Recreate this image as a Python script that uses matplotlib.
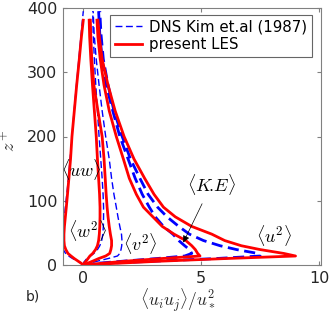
import matplotlib
matplotlib.use("Agg")
import matplotlib.pyplot as plt

plt.rcParams['mathtext.fontset'] = 'cm'
plt.rcParams['font.family'] = 'DejaVu Sans'

# wall distance z+ for the LES and DNS profiles
z_les = [0, 3, 6, 10, 14, 18, 24, 30, 38, 48, 60, 75, 90, 110, 135, 165, 200, 240, 280, 320, 355, 381]
z_dns = [0, 3, 6, 10, 14, 18, 24, 30, 38, 48, 60, 75, 90, 110, 135, 165, 200, 240, 280, 320, 360, 395]

# present LES
u2_les = [0, 1.6, 3.3, 6.0, 9.0, 8.5, 7.5, 6.7, 6.0, 5.45, 4.6, 3.9, 3.4, 3.0, 2.6, 2.15, 1.73, 1.35, 1.05, 0.8, 0.68, 0.62]
ke_les = [0, 0.9, 1.8, 3.3, 4.95, 4.85, 4.75, 4.6, 4.35, 3.85, 3.35, 2.95, 2.55, 2.25, 1.95, 1.7, 1.4, 1.1, 0.88, 0.72, 0.62, 0.58]
v2_les = [0, 0.2, 0.4, 0.65, 0.95, 1.12, 1.17, 1.2, 1.2, 1.15, 1.1, 1.05, 1.01, 0.97, 0.93, 0.88, 0.8, 0.62, 0.45, 0.36, 0.32, 0.3]
w2_les = [0, 0.05, 0.12, 0.2, 0.28, 0.4, 0.52, 0.6, 0.65, 0.68, 0.7, 0.71, 0.71, 0.69, 0.65, 0.6, 0.55, 0.47, 0.39, 0.32, 0.27, 0.25]
uw_les = [0, -0.1, -0.22, -0.38, -0.52, -0.65, -0.74, -0.8, -0.82, -0.82, -0.8, -0.76, -0.72, -0.67, -0.61, -0.54, -0.48, -0.38, -0.28, -0.17, -0.08, 0.0]

# DNS Kim et al. (1987)
u2_dns = [0, 1.2, 3.0, 5.6, 7.5, 7.4, 6.5, 5.8, 5.1, 4.5, 4.05, 3.55, 3.15, 2.75, 2.4, 2.0, 1.65, 1.3, 1.05, 0.85, 0.75, 0.7]
ke_dns = [0, 0.7, 1.7, 3.1, 4.3, 4.6, 4.5, 4.3, 4.05, 3.8, 3.4, 3.05, 2.8, 2.5, 2.2, 1.9, 1.55, 1.25, 0.97, 0.8, 0.7, 0.65]
v2_dns = [0, 0.3, 0.6, 1.05, 1.45, 1.55, 1.6, 1.63, 1.64, 1.62, 1.55, 1.47, 1.4, 1.3, 1.2, 1.1, 0.95, 0.8, 0.67, 0.55, 0.46, 0.42]
w2_dns = [0, 0.02, 0.06, 0.15, 0.3, 0.45, 0.6, 0.7, 0.78, 0.83, 0.85, 0.86, 0.86, 0.84, 0.8, 0.74, 0.67, 0.6, 0.53, 0.47, 0.42, 0.4]
uw_dns = [0, -0.08, -0.25, -0.45, -0.62, -0.75, -0.85, -0.9, -0.9, -0.88, -0.85, -0.8, -0.76, -0.7, -0.63, -0.56, -0.48, -0.39, -0.29, -0.19, -0.09, 0.0]

fig = plt.figure(figsize=(3.32, 3.14), dpi=100)
ax = fig.add_axes([63/332, 1-265/314, 258/332, 257/314])

dash = (0, (5, 2.5))
for prof in [uw_dns, w2_dns, v2_dns]:
    ax.plot(prof, z_dns, color='b', lw=1, linestyle=dash)
for prof in [u2_dns, ke_dns]:
    ax.plot(prof, z_dns, color='b', lw=2, linestyle=(0, (4, 2)))
ax.plot([], [], color='b', lw=1, linestyle=dash, label='DNS Kim et.al (1987)')
for i, prof in enumerate([uw_les, w2_les, v2_les, ke_les, u2_les]):
    ax.plot(prof, z_les, color='r', lw=2, label='present LES' if i == 0 else None)

ax.set_xlim(-0.86, 10.08)
ax.set_ylim(0, 400)
ax.set_xticks([0, 5, 10])
ax.set_yticks([0, 100, 200, 300, 400])
ax.tick_params(direction='in', length=3, top=True, right=True, labelsize=11.5,
               color='0.5', labelcolor='0.15', pad=4)
for s in ax.spines.values():
    s.set_color('0.5')
    s.set_linewidth(0.8)

tsz = 13
ax.text(-0.1, 148, r'$\langle uw\rangle$', fontsize=tsz, ha='center', va='center')
ax.text(0.18, 54, r'$\langle w^2\rangle$', fontsize=tsz, ha='center', va='center')
ax.text(2.42, 34, r'$\langle v^2\rangle$', fontsize=tsz, ha='center', va='center')
ax.text(8.08, 46, r'$\langle u^2\rangle$', fontsize=tsz, ha='center', va='center')
ax.annotate(r'$\langle K\!.\!E\rangle$', xy=(4.24, 35), xytext=(5.43, 125),
            fontsize=tsz, ha='center', va='center',
            arrowprops=dict(arrowstyle='-|>', color='k', lw=0.5,
                            mutation_scale=10, shrinkA=3, shrinkB=0))

ax.set_xlabel(r'$\langle u_i u_j\rangle / u_*^2$', fontsize=12.5, color='0.15')
ax.xaxis.set_label_coords(0.444, -0.085)
ax.set_ylabel(r'$z^+$', fontsize=tsz, color='0.15')
ax.yaxis.set_label_coords(-0.17, 0.486)
fig.text(33/332, 1-297/314, 'b)', fontsize=10, ha='center', va='center', color='0.15')

leg = ax.legend(loc='upper right', bbox_to_anchor=(0.964, 0.973), borderaxespad=0,
                fontsize=10.8, handlelength=1.8, handletextpad=0.5, labelspacing=0.2,
                borderpad=0.3, fancybox=False, framealpha=1)
leg.get_frame().set_edgecolor('0.4')
leg.get_frame().set_linewidth(0.8)

fig.savefig('out.png', dpi=100)
